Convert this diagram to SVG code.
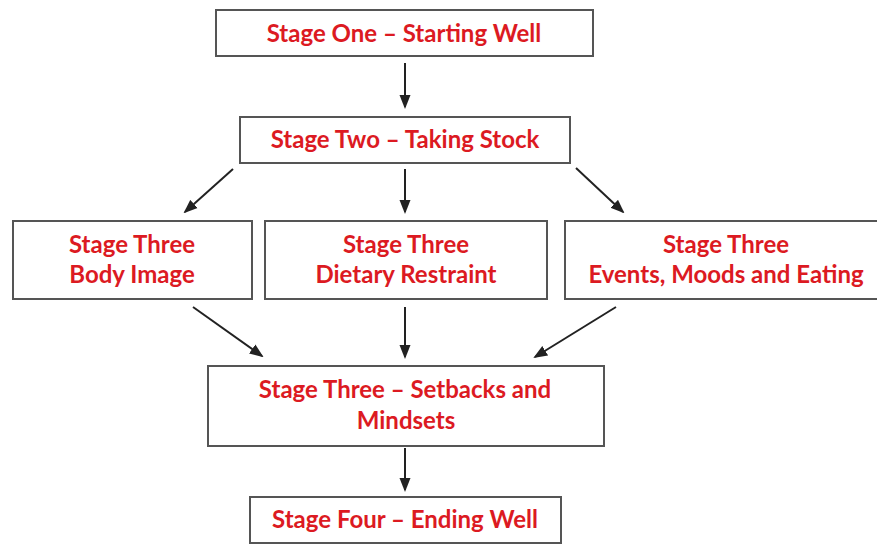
<svg xmlns="http://www.w3.org/2000/svg" width="877" height="545" viewBox="0 0 877 545">
<style>
.box{fill:#fff;stroke:#555;stroke-width:2}
.t{font-family:Lato,"Open Sans","Liberation Sans",sans-serif;font-weight:bold;font-size:24px;fill:#dc1a22;text-anchor:middle}
.c{stroke:#222;stroke-width:2;fill:none;marker-end:url(#ah)}
</style>
<defs>
<marker id="ah" markerWidth="14" markerHeight="12" refX="12" refY="5.5" orient="auto" markerUnits="userSpaceOnUse" viewBox="0 0 14 11">
<path d="M0,0 L14,5.5 L0,11 z" fill="#222"/>
</marker>
</defs>
<rect width="877" height="545" fill="#fff"/>
<g id="connectors">
<line class="c" x1="405" y1="63" x2="405" y2="107"/>
<line class="c" x1="233" y1="169" x2="185" y2="212"/>
<line class="c" x1="405" y1="169" x2="405" y2="212"/>
<line class="c" x1="576" y1="168" x2="623" y2="212"/>
<line class="c" x1="193" y1="307" x2="262" y2="356"/>
<line class="c" x1="405" y1="307" x2="405" y2="357"/>
<line class="c" x1="616" y1="307" x2="535" y2="357"/>
<line class="c" x1="405" y1="448" x2="405" y2="490"/>
</g>
<g id="stage1">
<rect class="box" x="216" y="10" width="377" height="46"/>
<text class="t" x="404" y="42">Stage One – Starting Well</text>
</g>
<g id="stage2">
<rect class="box" x="240" y="117" width="330" height="46"/>
<text class="t" x="405" y="148">Stage Two – Taking Stock</text>
</g>
<g id="body-image">
<rect class="box" x="13" y="221" width="239" height="78"/>
<text class="t" x="132" y="253">Stage Three</text>
<text class="t" x="132" y="283">Body Image</text>
</g>
<g id="dietary-restraint">
<rect class="box" x="265" y="221" width="282" height="78"/>
<text class="t" x="406" y="253">Stage Three</text>
<text class="t" x="406" y="283">Dietary Restraint</text>
</g>
<g id="events-moods">
<rect class="box" x="565" y="221" width="322" height="78"/>
<text class="t" x="726" y="253">Stage Three</text>
<text class="t" x="726" y="283">Events, Moods and Eating</text>
</g>
<g id="setbacks">
<rect class="box" x="208" y="366" width="396" height="80"/>
<text class="t" x="405" y="398">Stage Three – Setbacks and</text>
<text class="t" x="406" y="429">Mindsets</text>
</g>
<g id="stage4">
<rect class="box" x="250" y="497" width="311" height="46"/>
<text class="t" x="405" y="528">Stage Four – Ending Well</text>
</g>
</svg>
